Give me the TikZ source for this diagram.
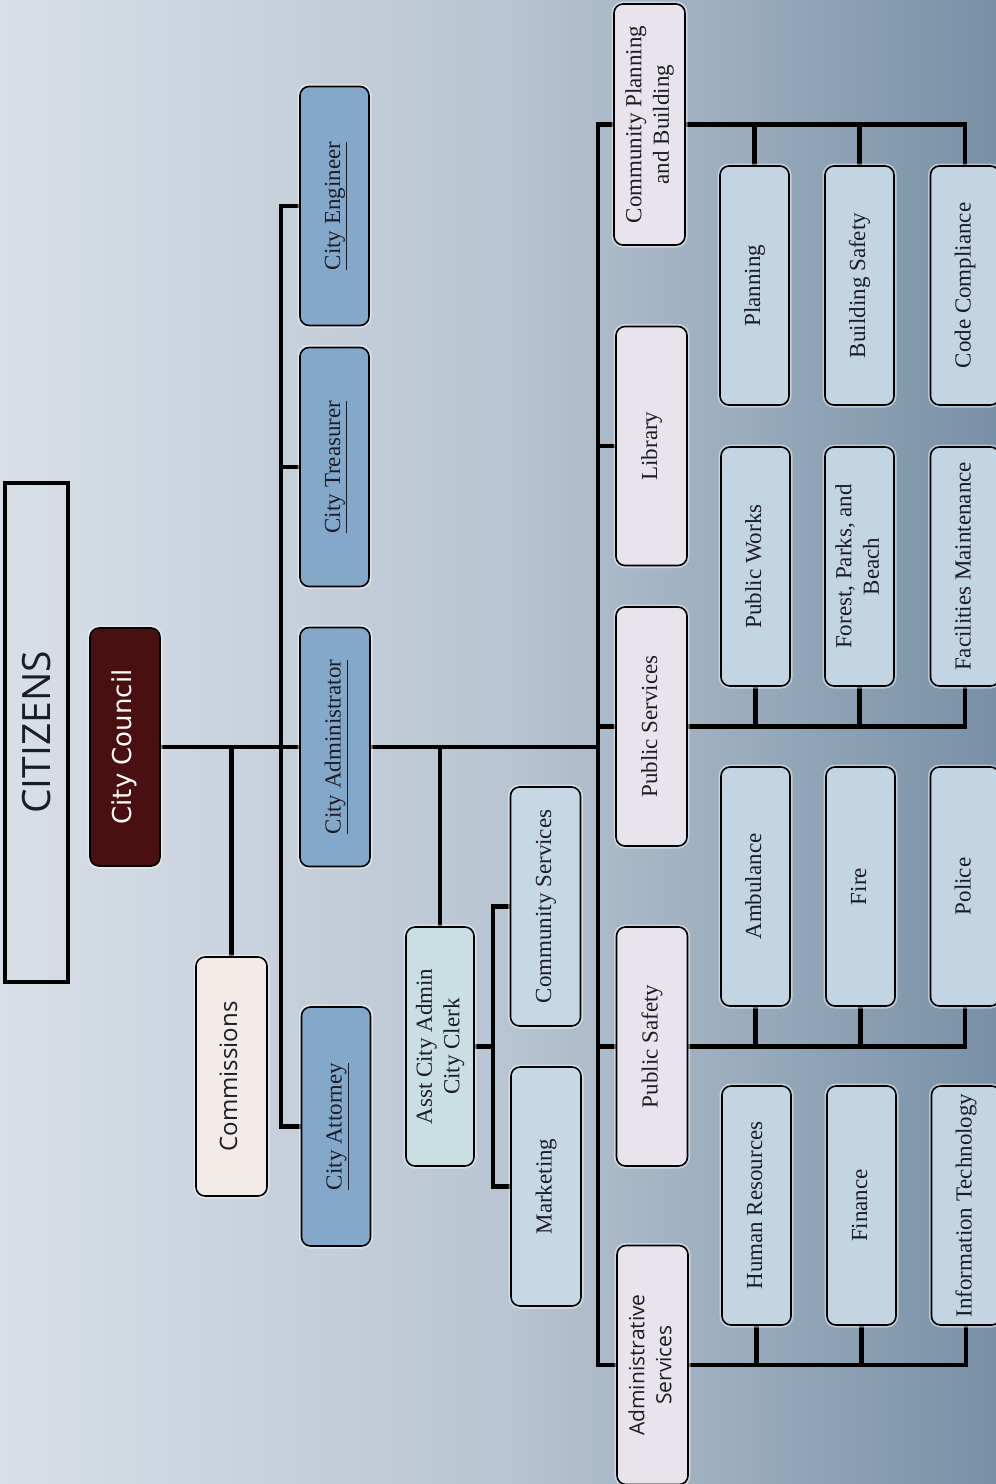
\documentclass[tikz,border=0pt]{standalone}
\usepackage{fontspec}
\setmainfont{Liberation Serif}
\newfontfamily\osans{Open Sans}
\newfontfamily\dvs{DejaVu Sans}
\usetikzlibrary{backgrounds}
\definecolor{bgL}{HTML}{D8DFE8}
\definecolor{bgM}{HTML}{B9C5D2}
\definecolor{bgR}{HTML}{7890A6}
\definecolor{maroon}{HTML}{4A0F10}
\definecolor{commfill}{HTML}{F3EBE7}
\definecolor{offfill}{HTML}{84A8C9}
\definecolor{asstfill}{HTML}{CADFE2}
\definecolor{csfill}{HTML}{C6D8E6}
\definecolor{lvl2}{HTML}{E9E4EC}
\definecolor{lvl3}{HTML}{C3D4E2}
\definecolor{txt}{HTML}{1A1C28}
\newcommand\rt[1]{\rotatebox{90}{\begin{tabular}{@{}c@{}}#1\end{tabular}}}
\begin{document}
\begin{tikzpicture}[x=1pt,y=-1pt,
  box/.style={draw=black, line width=1.6pt, rounded corners=9pt, inner sep=0pt,
    align=center, text=txt, minimum width=69, minimum height=239,
    font=\fontsize{23}{27.5}\selectfont,
    preaction={draw=white, draw opacity=0.45, line width=5pt}},
  officer/.style={box, fill=offfill},
  lvltwo/.style={box, fill=lvl2, minimum width=71},
  lvlthree/.style={box, fill=lvl3},
  conn/.style={draw=black, line width=4.5pt}]
\useasboundingbox (0,0) rectangle (996,1484);
\clip (0,0) rectangle (996,1484);
\begin{scope}[on background layer]
  \shade[left color=bgL, right color=bgR, middle color=bgM] (0,0) rectangle (996,1484);
\end{scope}

% top
\node[draw=black, line width=4pt, minimum width=63, minimum height=499, inner sep=0pt,
  font=\osans\fontsize{39}{44}\selectfont, text=txt] (cit) at (36.5,732.5) {\rotatebox{90}{CITIZENS}};
\node[box, fill=maroon, text=white, minimum width=70, minimum height=238,
  font=\dvs\fontsize{26}{30}\selectfont] (cc) at (125,747) {\rt{City Council}};
\node[box, fill=commfill, minimum width=71, font=\osans\fontsize{24}{28}\selectfont] (comm) at (231.5,1076.5) {\rt{Commissions}};

% officers
\node[officer] (att) at (336,1126.5) {\rt{\underline{City Attorney}}};
\node[officer, minimum width=70] (adm) at (335,747) {\rt{\underline{City Administrator}}};
\node[officer] (tre) at (334.5,467) {\rt{\underline{City Treasurer}}};
\node[officer] (eng) at (334.5,206) {\rt{\underline{City Engineer}}};

% asst
\node[box, fill=asstfill, minimum width=68] (asst) at (440,1046.5) {\rt{Asst City Admin\\City Clerk}};
\node[box, fill=csfill, minimum width=70] (cs) at (545.5,906.5) {\rt{Community Services}};
\node[box, fill=csfill, minimum width=70] (mkt) at (546,1186.5) {\rt{Marketing}};

% level 2
\node[lvltwo, font=\osans\fontsize{21}{27}\selectfont] (admsv) at (652.5,1365) {\rt{Administrative\\Services}};
\node[lvltwo] (psafe) at (652,1046.5) {\rt{Public Safety}};
\node[lvltwo] (pserv) at (651.5,726.5) {\rt{Public Services}};
\node[lvltwo] (lib) at (651.5,446) {\rt{Library}};
\node[lvltwo, minimum height=241] (cpb) at (649.5,124.5) {\rt{Community Planning\\and Building}};

% level 3
\node[lvlthree] (hr) at (756.5,1205.5) {\rt{Human Resources}};
\node[lvlthree] (fin) at (861.5,1205.5) {\rt{Finance}};
\node[lvlthree] (it) at (966,1205.5) {\rt{Information Technology}};
\node[lvlthree] (amb) at (755.5,886.5) {\rt{Ambulance}};
\node[lvlthree] (fire) at (860.5,886.5) {\rt{Fire}};
\node[lvlthree] (pol) at (965,886.5) {\rt{Police}};
\node[lvlthree] (pw) at (755.5,566.5) {\rt{Public Works}};
\node[lvlthree] (fpb) at (859.5,566.5) {\rt{Forest, Parks, and\\Beach}};
\node[lvlthree] (fm) at (965,566.5) {\rt{Facilities Maintenance}};
\node[lvlthree] (plan) at (754.5,285.5) {\rt{Planning}};
\node[lvlthree] (bs) at (859.5,285.5) {\rt{Building Safety}};
\node[lvlthree] (cc3) at (965,285.5) {\rt{Code Compliance}};

\coordinate (sa) at (281,0);
\coordinate (sb) at (493,0);
\coordinate (sc) at (598,0);

\begin{scope}[on background layer]
  \draw[conn] (cc.east) -- (cc.east -| sc);
  \draw[conn] (comm.north) -- (comm.north |- cc.east);
  \draw[conn] (eng.west) -- (eng.west -| sa) |- (att.west);
  \draw[conn] (tre.west) -- (tre.west -| sa);
  \draw[conn] (asst.north) -- (asst.north |- cc.east);
  \draw[conn] (asst.east) -- (asst.east -| sb);
  \draw[conn] (cs.west) -- (cs.west -| sb) |- (mkt.west);
  \draw[conn] (cpb.west) -- (cpb.west -| sc) |- (admsv.west);
  \draw[conn] (lib.west) -- (lib.west -| sc);
  \draw[conn] (pserv.west) -- (pserv.west -| sc);
  \draw[conn] (psafe.west) -- (psafe.west -| sc);
  % groups
  \draw[conn] (cpb.east) -| (cc3.north);
  \draw[conn] (plan.north) -- (plan.north |- cpb.east);
  \draw[conn] (bs.north) -- (bs.north |- cpb.east);
  \draw[conn] (pserv.east) -| (fm.south);
  \draw[conn] (pw.south) -- (pw.south |- pserv.east);
  \draw[conn] (fpb.south) -- (fpb.south |- pserv.east);
  \draw[conn] (psafe.east) -| (pol.south);
  \draw[conn] (amb.south) -- (amb.south |- psafe.east);
  \draw[conn] (fire.south) -- (fire.south |- psafe.east);
  \draw[conn] (admsv.east) -| (it.south);
  \draw[conn] (hr.south) -- (hr.south |- admsv.east);
  \draw[conn] (fin.south) -- (fin.south |- admsv.east);
\end{scope}
\end{tikzpicture}
\end{document}
